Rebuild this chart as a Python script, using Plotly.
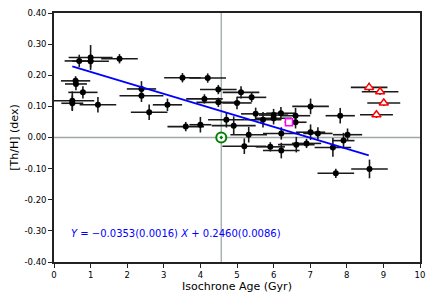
import plotly.graph_objects as go

# main sample
age = [0.69, 1.0, 1.0, 1.79, 0.59, 0.6, 0.79, 0.5, 0.5, 1.2, 2.39, 2.39, 2.6, 3.1, 3.51, 4.2,
       3.6, 4.0, 4.11, 4.49, 4.49, 5.11, 5.4, 5.0, 4.71, 4.91, 5.32, 5.51, 5.71, 6.0, 6.0, 6.2,
       6.6, 6.6, 7.01, 7.82, 7.01, 7.21, 8.02, 7.91, 6.21, 5.2, 5.91, 6.21, 6.62, 6.9, 7.62,
       7.7, 8.62]
thh = [0.246, 0.257, 0.245, 0.253, 0.182, 0.172, 0.145, 0.118, 0.11, 0.105, 0.156, 0.134, 0.081,
       0.105, 0.192, 0.191, 0.035, 0.041, 0.124, 0.154, 0.113, 0.145, 0.129, 0.111, 0.057, 0.038,
       0.009, 0.076, 0.057, 0.072, 0.062, 0.078, 0.07, 0.049, 0.1, 0.07, 0.017, 0.013, 0.009,
       -0.01, 0.013, -0.028, -0.03, -0.042, -0.023, -0.019, -0.032, -0.115, -0.101]
age_err = [0.4, 0.6, 0.5, 0.5, 0.4, 0.3, 0.4, 0.6, 0.3, 0.5, 0.4, 0.6, 0.5, 0.4, 0.5, 0.5,
           0.5, 0.3, 0.5, 0.5, 0.6, 0.5, 0.4, 0.4, 0.5, 0.6, 0.5, 0.4, 0.5, 0.4, 0.5, 0.4,
           0.4, 0.3, 0.5, 0.4, 0.4, 0.4, 0.4, 0.3, 0.5, 0.6, 0.4, 0.5, 0.5, 0.4, 0.5,
           0.5, 0.5]
thh_err = [0.02, 0.04, 0.02, 0.015, 0.015, 0.02, 0.02, 0.03, 0.025, 0.025, 0.025, 0.02, 0.025,
           0.02, 0.015, 0.015, 0.015, 0.025, 0.015, 0.015, 0.015, 0.02, 0.015, 0.02, 0.025, 0.03,
           0.025, 0.02, 0.025, 0.02, 0.02, 0.02, 0.025, 0.02, 0.025, 0.025, 0.025, 0.02, 0.02,
           0.025, 0.02, 0.025, 0.015, 0.025, 0.025, 0.015, 0.03, 0.015, 0.03]

# outliers (red triangles)
tri_age = [8.61, 8.91, 9.01, 8.81]
tri_thh = [0.161, 0.147, 0.111, 0.073]
tri_age_err = [0.5, 0.5, 0.45, 0.45]
tri_thh_err = [0.015, 0.01, 0.01, 0.01]

# magenta square
sq_age = [6.42]
sq_thh = [0.049]

# Sun
sun_age = [4.57]
sun_thh = [0.0]

# fit
slope, intercept = -0.0353, 0.2460
fit_x = [0.5, 8.6]
fit_y = [slope * v + intercept for v in fit_x]

xticks = list(range(0, 11))
yticks = [-0.4, -0.3, -0.2, -0.1, 0.0, 0.1, 0.2, 0.3, 0.4]
ytext = ["%.2f" % v for v in yticks]

fig = go.Figure()
ebc = "#1a1a1a"
fig.add_trace(go.Scatter(
    x=age, y=thh, mode="markers",
    marker=dict(color="black", size=6),
    error_x=dict(type="data", array=age_err, color=ebc, thickness=1.6, width=0),
    error_y=dict(type="data", array=thh_err, color=ebc, thickness=1.6, width=0),
))
fig.add_trace(go.Scatter(
    x=tri_age, y=tri_thh, mode="markers",
    marker=dict(symbol="triangle-up", color="white", size=8, line=dict(color="red", width=1.5)),
    error_x=dict(type="data", array=tri_age_err, color=ebc, thickness=1.6, width=0),
    error_y=dict(type="data", array=tri_thh_err, color=ebc, thickness=1.6, width=0),
))
fig.add_trace(go.Scatter(
    x=sq_age, y=sq_thh, mode="markers",
    marker=dict(symbol="square", color="white", size=7, line=dict(color="magenta", width=1.5)),
))
fig.add_trace(go.Scatter(
    x=sun_age, y=sun_thh, mode="markers",
    marker=dict(symbol="circle-dot", color="white", size=10, line=dict(color="green", width=2)),
))
fig.add_trace(go.Scatter(
    x=fit_x, y=fit_y, mode="lines", line=dict(color="blue", width=1.8),
))

fig.add_shape(type="line", x0=sun_age[0], x1=sun_age[0], y0=0, y1=1, xref="x", yref="paper",
              line=dict(color="#a0a8a8", width=1.3), layer="below")
fig.add_shape(type="line", x0=0, x1=1, y0=0, y1=0, xref="paper", yref="y",
              line=dict(color="#a0a8a8", width=1.3), layer="below")

fig.add_annotation(
    x=0.42, y=-0.307, xref="x", yref="y", xanchor="left", yanchor="middle",
    text="<i>Y</i> = \u22120.0353(0.0016) <i>X</i> + 0.2460(0.0086)",
    showarrow=False, font=dict(color="blue", size=10, family="DejaVu Sans"),
)

axis_common = dict(showline=True, linecolor="#222", linewidth=1.6, mirror=True,
                   ticks="outside", ticklen=4, tickwidth=1.2, tickcolor="#222",
                   showgrid=False, zeroline=False, automargin=False,
                   ticklabeloverflow="allow",
                   tickfont=dict(size=8.5, family="DejaVu Sans", color="black"))
fig.update_xaxes(range=[0, 10], tickvals=xticks, ticktext=[str(v) for v in xticks],
                 title=dict(text="Isochrone Age (Gyr)", font=dict(size=11, family="DejaVu Sans", color="black"),
                            standoff=2),
                 **axis_common)
fig.update_yaxes(range=[-0.4, 0.4], tickvals=yticks, ticktext=ytext,
                 title=dict(text="[Th/H] (dex)", font=dict(size=11, family="DejaVu Sans", color="black"),
                            standoff=4),
                 **axis_common)
fig.update_layout(width=436, height=302, showlegend=False,
                  margin=dict(l=46, r=24, t=5, b=48),
                  plot_bgcolor="white", paper_bgcolor="white")
fig.write_html("out.html")
